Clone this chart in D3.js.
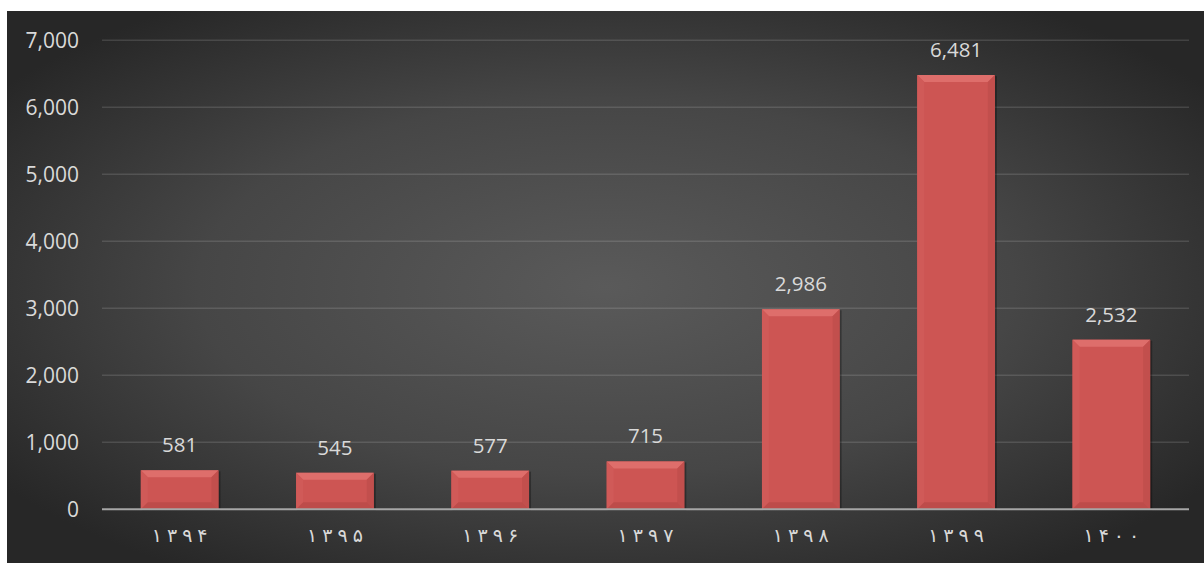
<!DOCTYPE html>
<html>
<head>
<meta charset="utf-8">
<script src="https://cdn.jsdelivr.net/npm/d3@7/dist/d3.min.js"></script>
<style>
  html, body { margin: 0; padding: 0; background: #ffffff; }
  svg { display: block; }
</style>
</head>
<body>
<svg id="chart" width="1204" height="563"></svg>
<script>
// Yearly totals (Solar Hijri years)
const years = ["۱۳۹۴", "۱۳۹۵", "۱۳۹۶", "۱۳۹۷", "۱۳۹۸", "۱۳۹۹", "۱۴۰۰"];
const values = [581, 545, 577, 715, 2986, 6481, 2532];
const yTicks = [0, 1000, 2000, 3000, 4000, 5000, 6000, 7000];

const svg = d3.select("#chart");
const W = 1204, H = 563;
const panel = { x: 7, y: 11, w: W - 7, h: H - 11 };
const plot = { left: 102, right: 1189, top: 40.3, bottom: 509.3 };

const defs = svg.append("defs");

// Dark panel with a soft spotlight in the middle
const bg = defs.append("radialGradient").attr("id", "bgGrad")
  .attr("cx", "0.5").attr("cy", "0.5").attr("r", "0.62");
bg.append("stop").attr("offset", "0").attr("stop-color", "#5a5a5a");
bg.append("stop").attr("offset", "0.55").attr("stop-color", "#464646");
bg.append("stop").attr("offset", "1").attr("stop-color", "#272727");

svg.append("rect")
  .attr("x", panel.x).attr("y", panel.y)
  .attr("width", panel.w).attr("height", panel.h)
  .attr("fill", "url(#bgGrad)");

const x = d3.scaleBand().domain(years).range([plot.left, plot.right])
  .paddingInner(0.5).paddingOuter(0.25);
const y = d3.scaleLinear().domain([0, 7000]).range([plot.bottom, plot.top]);

// Horizontal gridlines
svg.append("g").selectAll("line")
  .data(yTicks.filter(d => d > 0))
  .join("line")
  .attr("x1", plot.left).attr("x2", plot.right)
  .attr("y1", d => y(d)).attr("y2", d => y(d))
  .attr("stroke", "rgba(255,255,255,0.13)")
  .attr("stroke-width", 1.5);

// Y-axis labels
const yAxis = d3.axisLeft(y).tickValues(yTicks).tickFormat(d3.format(",")).tickSize(0).tickPadding(0);
const gy = svg.append("g").attr("transform", `translate(79,0)`).call(yAxis);
gy.select(".domain").remove();
gy.selectAll("text")
  .attr("fill", "#d9d9d9")
  .attr("font-family", "'Open Sans', sans-serif")
  .attr("font-size", 21)
  .attr("dy", "0.35em");

// Bars with bevelled edges
const bev = 7;
const bars = svg.append("g").selectAll("g.bar").data(values.map((v, i) => ({ v, year: years[i] })))
  .join("g").attr("class", "bar");

bars.each(function (d) {
  const g = d3.select(this);
  const x0 = x(d.year), x1 = x0 + x.bandwidth();
  const y0 = y(d.v), y1 = y(0);
  const b = Math.min(bev, (y1 - y0) / 2);
  // soft shadow
  g.append("rect").attr("x", x0 + 1).attr("y", y0 + 1)
    .attr("width", x1 - x0 + 1).attr("height", y1 - y0)
    .attr("fill", "rgba(0,0,0,0.3)");
  // face
  g.append("rect").attr("x", x0).attr("y", y0)
    .attr("width", x1 - x0).attr("height", y1 - y0)
    .attr("fill", "#cd5553");
  // top bevel
  g.append("polygon")
    .attr("points", [[x0, y0], [x1, y0], [x1 - b, y0 + b], [x0 + b, y0 + b]].join(" "))
    .attr("fill", "#de6e6b");
  // left bevel
  g.append("polygon")
    .attr("points", [[x0, y0], [x0 + b, y0 + b], [x0 + b, y1 - b], [x0, y1]].join(" "))
    .attr("fill", "#d05a58");
  // right bevel
  g.append("polygon")
    .attr("points", [[x1, y0], [x1 - b, y0 + b], [x1 - b, y1 - b], [x1, y1]].join(" "))
    .attr("fill", "#c24f4d");
  // bottom bevel
  g.append("polygon")
    .attr("points", [[x0, y1], [x0 + b, y1 - b], [x1 - b, y1 - b], [x1, y1]].join(" "))
    .attr("fill", "#bd4c4a");
});

// Value labels
svg.append("g").selectAll("text")
  .data(values.map((v, i) => ({ v, year: years[i] })))
  .join("text")
  .attr("x", d => x(d.year) + x.bandwidth() / 2)
  .attr("y", d => y(d.v) - 18)
  .attr("text-anchor", "middle")
  .attr("fill", "#d9d9d9")
  .attr("font-family", "'Open Sans', sans-serif")
  .attr("font-size", 20.5)
  .text(d => d3.format(",")(d.v));

// Baseline
svg.append("line")
  .attr("x1", plot.left).attr("x2", plot.right)
  .attr("y1", y(0)).attr("y2", y(0))
  .attr("stroke", "#a6a6a6").attr("stroke-width", 2);

// Category labels, digits spread apart
const xAxis = d3.axisBottom(x).tickSize(0).tickPadding(0).tickFormat(() => "");
const gx = svg.append("g").attr("transform", `translate(0,${y(0)})`).call(xAxis);
gx.select(".domain").remove();
gx.selectAll(".tick text").each(function (d) {
  const t = d3.select(this)
    .attr("fill", "#d9d9d9")
    .attr("font-family", "'DejaVu Sans', sans-serif")
    .attr("font-size", 19)
    .attr("direction", "ltr")
    .attr("y", 33)
    .attr("dy", 0);
  t.selectAll("tspan").data(Array.from(d)).join("tspan")
    .attr("dx", (c, i) => i === 0 ? 0 : 5)
    .text(c => c);
});
</script>
</body>
</html>
